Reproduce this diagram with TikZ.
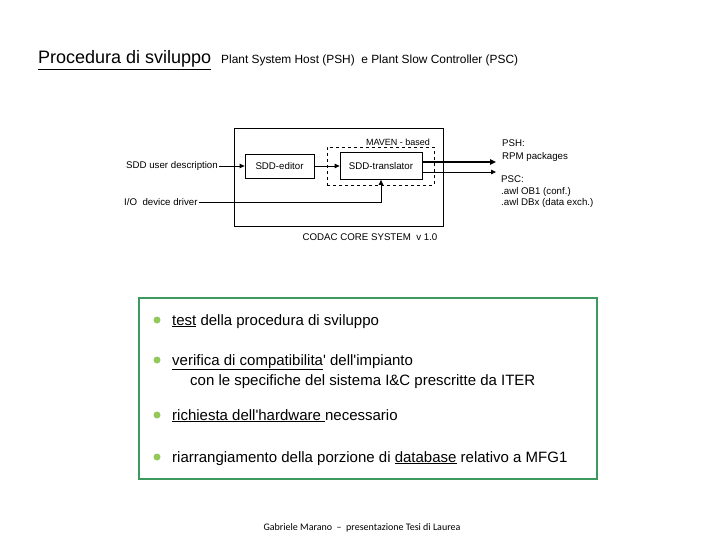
\documentclass[tikz,border=0pt]{standalone}
\usepackage{fontspec}
\setmainfont{Liberation Sans}[Ligatures=TeXOff]
\newfontfamily\footfont{Carlito}
\usetikzlibrary{arrows.meta}
\definecolor{boxgreen}{HTML}{3C9A5F}
\definecolor{bulletgreen}{HTML}{93C95A}
\newcommand{\ul}[1]{\underline{#1}}
\begin{document}
\begin{tikzpicture}[x=1pt,y=-1pt,
  lbl/.style={inner sep=1pt,font=\fontsize{9.7}{11.5}\selectfont,align=left},
  blk/.style={draw,line width=0.8pt,inner sep=0pt},
  arr/.style={line width=0.8pt,-{Triangle[length=5pt,width=4.5pt]}},
  item/.style={anchor=base west,inner sep=0pt,font=\fontsize{15}{18}\selectfont},
  dot/.style={circle,fill=bulletgreen,inner sep=0pt,minimum size=7pt}]
\useasboundingbox (0,0) rectangle (720,540);
% title
\node[anchor=base west,inner sep=0pt,font=\fontsize{18}{21}\selectfont] (title) at (38,64) {\ul{Procedura di sviluppo}};
\node[anchor=base west,inner sep=0pt,font=\fontsize{11.9}{13}\selectfont] (subtitle) at (221,64) {Plant System Host (PSH)\ \ e Plant Slow Controller (PSC)};
% diagram
\node[blk,minimum width=209pt,minimum height=98pt] (outer) at (338.5,177) {};
\node[draw,dashed,line width=0.8pt,inner sep=0pt,minimum width=107pt,minimum height=38pt] (maven) at (380.5,166) {};
\node[lbl,font=\fontsize{9}{11}\selectfont] (mavenlbl) at (398,142) {MAVEN - based};
\node[blk,lbl,draw,inner sep=0pt,minimum width=69pt,minimum height=24pt] (editor) at (279.5,166) {SDD-editor};
\node[blk,lbl,draw,inner sep=0pt,minimum width=82pt,minimum height=27pt] (translator) at (381,166) {SDD-translator};
\node[lbl,anchor=east] (sdd) at (219,166) {SDD user description};
\node[lbl,anchor=west] (io) at (123,202) {I/O\ \ device driver};
\draw[arr] (sdd.east) -- (editor.west);
\draw[arr] (editor.east) -- (translator.west);
\draw[arr] (io.east) -| (translator.south);
\coordinate (pshend) at (496,162);
\coordinate (pscend) at (496,172);
\draw[line width=2pt,-{Triangle[length=6pt,width=5.5pt]}] (translator.east |- pshend) -- (pshend);
\draw[arr] (translator.east |- pscend) -- (pscend);
\node[lbl,anchor=north west,font=\fontsize{9.7}{12.5}\selectfont] (psh) at (501,139) {PSH:\\RPM packages};
\node[lbl,anchor=north west,font=\fontsize{9.7}{11.5}\selectfont] (psc) at (500,175) {PSC:\\.awl OB1 (conf.)\\.awl DBx (data exch.)};
\node[lbl] (codac) at (370,237) {CODAC CORE SYSTEM\ \ v 1.0};
% green box
\node[draw=boxgreen,line width=2pt,inner sep=0pt,minimum width=458pt,minimum height=181pt] (greenbox) at (368,388.5) {};
\node[dot] (b1) at (157,320) {};
\node[dot] (b2) at (157,360) {};
\node[dot] (b3) at (157,415) {};
\node[dot] (b4) at (157,457) {};
\node[item] (t1) at (172,325) {\ul{test} della procedura di sviluppo};
\node[item] (t2) at (172,365) {\ul{verifica di compatibilita}' dell'impianto};
\node[item] (t2b) at (190,385) {con le specifiche del sistema I\&C prescritte da ITER};
\node[item] (t3) at (172,420) {\ul{richiesta dell'hardware\ }necessario};
\node[item] (t4) at (172,462) {riarrangiamento della porzione di \ul{database} relativo a MFG1};
% footer
\node[anchor=base,inner sep=0pt,font=\footfont\fontsize{10}{11}\selectfont] (footer) at (362,530) {Gabriele Marano\ \ –\ \ presentazione Tesi di Laurea};
\end{tikzpicture}
\end{document}
